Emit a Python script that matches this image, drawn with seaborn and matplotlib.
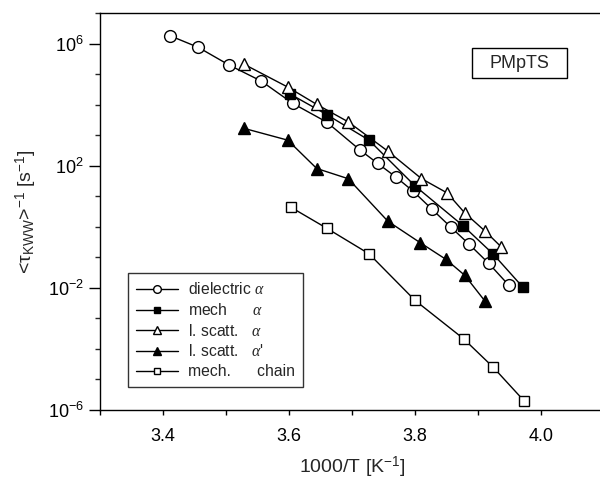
import numpy as np
import pandas as pd
import matplotlib
matplotlib.use("Agg")
import matplotlib.pyplot as plt
import seaborn as sns
from matplotlib.ticker import FixedLocator, NullFormatter
from matplotlib.patches import Rectangle

# ---------------- data (1000/T in K^-1, log10 of rate in s^-1) ----------------
diel_x = [3.411, 3.456, 3.505, 3.556, 3.606, 3.660, 3.713, 3.741, 3.770, 3.797,
          3.827, 3.857, 3.886, 3.917, 3.949]
diel_logy = [6.256, 5.875, 5.295, 4.770, 4.039, 3.426, 2.508, 2.072, 1.623, 1.164,
             0.574, -0.016, -0.574, -1.197, -1.918]

mech_x = [3.602, 3.660, 3.727, 3.800, 3.876, 3.924, 3.971]
mech_logy = [4.344, 3.672, 2.836, 1.338, 0.039, -0.892, -1.974]

ls_x = [3.529, 3.598, 3.644, 3.694, 3.757, 3.810, 3.851, 3.879, 3.911, 3.937]
ls_logy = [5.318, 4.574, 4.007, 3.436, 2.475, 1.580, 1.108, 0.452, -0.138, -0.662]

lsp_x = [3.529, 3.598, 3.644, 3.694, 3.757, 3.808, 3.849, 3.879, 3.911]
lsp_logy = [3.220, 2.836, 1.908, 1.574, 0.180, -0.518, -1.066, -1.590, -2.433]

chain_x = [3.603, 3.660, 3.727, 3.800, 3.877, 3.924, 3.973]
chain_logy = [0.639, -0.049, -0.885, -2.410, -3.666, -4.597, -5.698]

labels = [r"dielectric $\alpha$",
          r"mech      $\alpha$",
          r"l. scatt.   $\alpha$",
          r"l. scatt.   $\alpha$'",
          r"mech.      chain"]

x_ticks = [3.4, 3.6, 3.8, 4.0]
y_ticks = [1e-6, 1e-2, 1e2, 1e6]

# ---------------- style ----------------
sns.set_style("ticks")
plt.rcParams["font.family"] = ["Liberation Sans", "DejaVu Sans"]
plt.rcParams["mathtext.fontset"] = "custom"
plt.rcParams["mathtext.rm"] = "Liberation Sans"
plt.rcParams["mathtext.sf"] = "Liberation Sans"
plt.rcParams["mathtext.it"] = "Liberation Serif:italic"
plt.rcParams["mathtext.bf"] = "Liberation Sans:bold"
plt.rcParams["axes.unicode_minus"] = False

fig = plt.figure(figsize=(6.0, 4.82), dpi=100)
ax = fig.add_axes([100 / 600, 72 / 482, 504 / 600, 397 / 482])

series = [
    (diel_x, diel_logy, "o", "white", 8.5),
    (mech_x, mech_logy, "s", "black", 7.2),
    (ls_x, ls_logy, "^", "white", 9.0),
    (lsp_x, lsp_logy, "^", "black", 9.0),
    (chain_x, chain_logy, "s", "white", 7.2),
]

handles = []
for (xs, lys, mk, fc, ms), lab in zip(series, labels):
    df = pd.DataFrame({"x": xs, "y": 10.0 ** np.array(lys)})
    sns.lineplot(data=df, x="x", y="y", ax=ax, color="black", linewidth=1.0,
                 marker=mk, markersize=ms, markerfacecolor=fc,
                 markeredgecolor="black", markeredgewidth=1.0,
                 estimator=None, sort=False, label=lab, legend=False)
    handles.append(ax.lines[-1])

ax.set_yscale("log")
ax.set_xlim(3.3, 4.1)
ax.set_ylim(1e-6, 1e7)
ax.set_xticks(x_ticks)
ax.set_xticklabels([f"{v:.1f}" for v in x_ticks])
ax.xaxis.set_minor_locator(FixedLocator([3.3, 3.5, 3.7, 3.9]))
ax.set_yticks(y_ticks)
ax.yaxis.set_minor_locator(FixedLocator([10.0 ** k for k in range(-6, 8)]))
ax.yaxis.set_minor_formatter(NullFormatter())

for s in ["top", "left", "bottom"]:
    ax.spines[s].set_linewidth(1.0)
    ax.spines[s].set_color("black")
ax.spines["right"].set_visible(False)

ax.tick_params(axis="x", which="both", direction="out", length=3.8, width=1,
               labelsize=13, pad=9.5, colors="black")
ax.tick_params(axis="y", which="major", direction="out", length=7.7, width=1,
               labelsize=13, pad=4, colors="black")
ax.tick_params(axis="y", which="minor", direction="out", length=3.8, width=1)

ax.set_xlabel("1000/T [K$^{\\mathregular{-1}}$]", fontsize=14, labelpad=7)
ax.set_ylabel("<τ$_{\\mathregular{KWW}}$>$^{\\mathregular{-1}}$ [s$^{\\mathregular{-1}}$]",
              fontsize=14, labelpad=6)

leg = ax.legend(handles=handles, labels=labels, loc="lower left",
                bbox_to_anchor=(0.0556, 0.058), borderaxespad=0,
                frameon=True, fancybox=False, edgecolor="black",
                fontsize=11.3, handlelength=2.7, labelspacing=0.3,
                handletextpad=0.6, borderpad=0.5, markerscale=0.65)
leg.get_frame().set_linewidth(1.0)

# PMpTS label box
ax.add_patch(Rectangle((0.7387, 0.8355), 0.1873, 0.0756, transform=ax.transAxes,
                       facecolor="white", edgecolor="black", linewidth=1.0))
ax.text(0.7387 + 0.1873 / 2, 0.8355 + 0.0756 / 2, "PMpTS", transform=ax.transAxes,
        ha="center", va="center", fontsize=13)

fig.savefig("out.png", dpi=100)
